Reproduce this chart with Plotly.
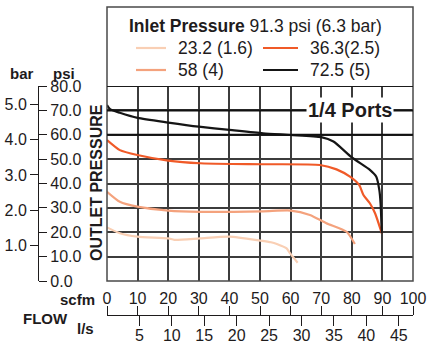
import plotly.graph_objects as go

# flow (scfm) / outlet pressure (psi), one pair of lists per inlet setting
flow_232 = [0, 4.2, 9.9, 20, 22, 30.4, 40, 50, 53.6, 55.5, 58.7, 59.8, 62.3]
psi_232 = [22, 19.6, 18.2, 17.5, 16.9, 17.5, 18.2, 16.6, 15.9, 15.2, 13.4, 11.4, 7.5]

flow_58 = [0, 4.2, 9.9, 20, 30.4, 51, 60, 66.3, 71.7, 78.3, 81]
psi_58 = [36.6, 32.5, 30.5, 28.9, 28.4, 28.6, 28.9, 27.1, 23.7, 20.2, 15.2]

flow_363 = [0, 4.2, 9.9, 20, 30.4, 41, 51, 69.6, 75, 79.4, 82.4, 83.8, 85.9, 87.6, 89.8]
psi_363 = [57.8, 53.7, 51.7, 49.4, 48.3, 48, 47.9, 47.6, 45.8, 42.8, 39.4, 35.3, 31.9, 27.8, 19.6]

flow_725 = [0, 1, 4.2, 10, 20, 30, 40, 51, 60, 70, 74, 80, 86, 88, 89, 89.4, 89.8]
psi_725 = [72.2, 70.5, 69, 66.9, 65, 63.3, 62, 60.6, 59.9, 59, 57.2, 50.7, 45.5, 42.8, 37.3, 32, 19.6]

series = [
    ('23.2 (1.6)', flow_232, psi_232, '#f9cfb4'),
    ('36.3(2.5)', flow_363, psi_363, '#f05a28'),
    ('58 (4)', flow_58, psi_58, '#f4a27d'),
    ('72.5 (5)', flow_725, psi_725, '#151515'),
]

psi_ticks = [0, 10, 20, 30, 40, 50, 60, 70, 80]
bar_ticks = [1, 2, 3, 4, 5]
scfm_ticks = [0, 10, 20, 30, 40, 50, 60, 70, 80, 90, 100]
ls_ticks = [5, 10, 15, 20, 25, 30, 35, 40, 45]
PSI_PER_BAR = 14.5038
SCFM_PER_LS = 2.1189

W, H = 428, 341
ML, MR, MT, MB = 0, 15, 0, 0
PW, PH = W - ML - MR, H - MT - MB


def px(x):
    # window pixel -> paper fraction
    return (x - ML) / PW


def py(y):
    return (H - MB - y) / PH


FONT = 'Liberation Sans, Arial, sans-serif'
TXT = '#1e1b1c'
GRID = '#3c3c3c'

fig = go.Figure()
for name, fx, fy, col in series:
    fig.add_trace(go.Scatter(x=fx, y=fy, mode='lines', name=name,
                             line=dict(color=col, width=2.2, shape='spline', smoothing=0.6),
                             showlegend=False, hoverinfo='skip'))

# empty traces so the extra axes get drawn
for xa, ya in [('x2', 'y'), ('x3', 'y'), ('x', 'y2'), ('x', 'y3')]:
    fig.add_trace(go.Scatter(x=[None], y=[None], xaxis=xa, yaxis=ya,
                             mode='lines', showlegend=False, hoverinfo='skip'))

xdom = [px(107), 1]
ydom = [py(281), py(86)]
axis_x = px(38)
flow_y = py(315)

tick_common = dict(ticks='outside', tickwidth=1.2, tickcolor=TXT, showgrid=False,
                   zeroline=False, automargin=False, tickfont=dict(size=16))

fig.update_layout(
    width=W, height=H,
    margin=dict(l=ML, r=MR, t=MT, b=MB, autoexpand=False),
    paper_bgcolor='white', plot_bgcolor='white',
    font=dict(family=FONT, size=16, color=TXT),
    xaxis=dict(domain=xdom, range=[0, 100], dtick=10, showgrid=True, gridcolor=GRID, gridwidth=1.5,
               showticklabels=False, ticks='', zeroline=False, showline=False, automargin=False),
    yaxis=dict(domain=ydom, range=[0, 80], dtick=10, showgrid=True, gridcolor=GRID, gridwidth=1.5,
               showticklabels=False, ticks='', zeroline=False, showline=False, automargin=False),
    xaxis2=dict(overlaying='x', anchor='free', position=flow_y, side='top', range=[0, 100],
                tickvals=scfm_ticks, ticklen=9, ticklabelstandoff=-4, showline=True,
                linecolor=TXT, linewidth=1.2, **tick_common),
    xaxis3=dict(overlaying='x', anchor='free', position=flow_y, side='bottom',
                range=[0, 100 / SCFM_PER_LS], tickvals=ls_ticks, ticklen=10, ticklabelstandoff=-4,
                showline=False, **tick_common),
    yaxis2=dict(overlaying='y', anchor='free', position=axis_x, side='right', range=[0, 80],
                tickvals=psi_ticks, tickformat='.1f', ticklen=8, showline=True, linecolor=TXT,
                linewidth=1.2, **tick_common),
    yaxis3=dict(overlaying='y', anchor='free', position=axis_x, side='left',
                range=[0, 80 / PSI_PER_BAR], tickvals=bar_ticks, tickformat='.1f', ticklen=8,
                showline=False, **tick_common),
)

shapes = [
    dict(type='rect', xref='paper', yref='paper', x0=xdom[0], x1=1, y0=ydom[0], y1=py(7),
         line=dict(color='#4a4a4a', width=1.5)),
    dict(type='line', xref='x', yref='y', x0=0, x1=100, y0=80, y1=80, line=dict(color='#1a1a1a', width=1.8)),
    dict(type='line', xref='x', yref='y', x0=0, x1=100, y0=70, y1=70, line=dict(color='#111', width=2)),
    dict(type='line', xref='x', yref='y', x0=0, x1=100, y0=60, y1=60, line=dict(color='#111', width=2)),
]

# legend drawn by hand: two columns under the title
legend_pos = [(136, 166, 176, 48), (263, 298, 308, 48), (136, 166, 176, 70), (263, 298, 308, 70)]
annotations = [
    dict(text='<b>Inlet Pressure</b> 91.3 psi (6.3 bar)', x=px(127), y=py(26), xanchor='left',
         yanchor='middle', font=dict(size=17.5)),
]
for (name, fx, fy, col), (l0, l1, tx, ty) in zip(series, legend_pos):
    shapes.append(dict(type='line', xref='paper', yref='paper', x0=px(l0), x1=px(l1),
                       y0=py(ty), y1=py(ty), line=dict(color=col, width=2.2)))
    annotations.append(dict(text=name, x=px(tx), y=py(ty), xanchor='left', yanchor='middle',
                            font=dict(size=17.5)))

annotations += [
    dict(text='<b>1/4 Ports</b>', x=px(350), y=70, yref='y', xanchor='center', yanchor='middle',
         font=dict(size=20), bgcolor='white', borderpad=1),
    dict(text='<b>OUTLET PRESSURE</b>', x=px(96), y=py(183), textangle=-90, xanchor='center',
         yanchor='middle', font=dict(size=16)),
    dict(text='<b>bar</b>', x=px(22), y=py(73), xanchor='center', yanchor='middle', font=dict(size=15)),
    dict(text='<b>psi</b>', x=px(64), y=py(73), xanchor='center', yanchor='middle', font=dict(size=15)),
    dict(text='<b>scfm</b>', x=px(97), y=py(299), xanchor='right', yanchor='middle', font=dict(size=15)),
    dict(text='<b>FLOW</b>', x=px(70), y=py(318), xanchor='right', yanchor='middle', font=dict(size=15)),
    dict(text='<b>l/s</b>', x=px(75), y=py(328), xanchor='left', yanchor='middle', font=dict(size=15)),
]
for a in annotations:
    a.setdefault('xref', 'paper')
    a.setdefault('yref', 'paper')
    a['showarrow'] = False

fig.update_layout(shapes=shapes, annotations=annotations)
# drop the browser's default 8px body margin so the 428x341 figure fills the window exactly
fig.write_html('out.html', config={'displayModeBar': False},
               post_script="document.body.style.margin='0';")
